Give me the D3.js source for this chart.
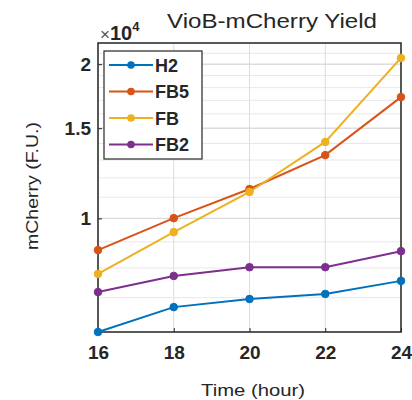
<!DOCTYPE html>
<html>
<head>
<meta charset="utf-8">
<script src="https://cdn.jsdelivr.net/npm/d3@7"></script>
<style>
  body { margin: 0; background: #fff; }
  text { font-family: "Liberation Sans", Arial, sans-serif; fill: #262626; }
</style>
</head>
<body>
<div id="chart"></div>
<script>
const hours = [16, 18, 20, 22, 24];
const seriesNames = ["H2", "FB5", "FB", "FB2"];
const h2 = [6000, 6710, 6960, 7120, 7550];
const fb5 = [8670, 10010, 11410, 13290, 17250];
const fb = [7790, 9400, 11260, 14100, 20570];
const fb2 = [7180, 7720, 8030, 8030, 8630];
const colors = ["#0072BD", "#D95319", "#EDB120", "#7E2F8E"];
const yTicks = [10000, 15000, 20000];
const yMinor = d3.range(6000, 22001, 1000);
const xTicks = [16, 18, 20, 22, 24];

const width = 412, height = 400;
const plotLeft = 98, plotRight = 401, plotTop = 43, plotBottom = 332;

const svg = d3.select("#chart")
	.append("svg")
	.attr("width", width)
	.attr("height", height);

const x = d3.scaleLinear().domain([16, 24]).range([plotLeft, plotRight]);
const y = d3.scaleLog().domain([6000, 22000]).range([plotBottom, plotTop]);

// grid
svg.append("g")
	.selectAll("line")
	.data(yMinor)
	.join("line")
	.attr("x1", plotLeft).attr("x2", plotRight)
	.attr("y1", d => y(d)).attr("y2", d => y(d))
	.attr("stroke", "#e8e8e8")
	.attr("stroke-width", 1);

svg.append("g")
	.selectAll("line")
	.data(xTicks)
	.join("line")
	.attr("x1", d => x(d)).attr("x2", d => x(d))
	.attr("y1", plotTop).attr("y2", plotBottom)
	.attr("stroke", "#dcdcdc")
	.attr("stroke-width", 1);

svg.append("g")
	.selectAll("line")
	.data(yTicks)
	.join("line")
	.attr("x1", plotLeft).attr("x2", plotRight)
	.attr("y1", d => y(d)).attr("y2", d => y(d))
	.attr("stroke", "#d6d6d6")
	.attr("stroke-width", 1);

// axes
const xAxis = svg.append("g")
	.attr("transform", `translate(0,${plotBottom})`)
	.call(d3.axisBottom(x).tickValues(xTicks).tickSize(-4).tickPadding(14).tickFormat(d3.format("d")));
const yAxis = svg.append("g")
	.attr("transform", `translate(${plotLeft},0)`)
	.call(d3.axisLeft(y).tickValues(yTicks).tickSize(-4).tickPadding(7).tickFormat(d => d / 10000));

[xAxis, yAxis].forEach(g => {
	g.select(".domain").remove();
	g.selectAll(".tick line").attr("stroke", "#262626");
	g.selectAll("text")
		.style("font-size", "19px")
		.style("font-weight", "bold")
		.attr("fill", "#262626");
});

// box
svg.append("rect")
	.attr("x", plotLeft).attr("y", plotTop)
	.attr("width", plotRight - plotLeft).attr("height", plotBottom - plotTop)
	.attr("fill", "none")
	.attr("stroke", "#262626")
	.attr("stroke-width", 1.5);

// series
const allSeries = [h2, fb5, fb, fb2];
const line = d3.line().x((d, i) => x(hours[i])).y(d => y(d));

allSeries.forEach((vals, k) => {
	svg.append("path")
		.datum(vals)
		.attr("d", line)
		.attr("fill", "none")
		.attr("stroke", colors[k])
		.attr("stroke-width", 2);
	svg.append("g")
		.selectAll("circle")
		.data(vals)
		.join("circle")
		.attr("cx", (d, i) => x(hours[i]))
		.attr("cy", d => y(d))
		.attr("r", 3.8)
		.attr("fill", colors[k])
		.attr("stroke", colors[k]);
});

// legend
const legend = svg.append("g");
legend.append("rect")
	.attr("x", 104).attr("y", 51)
	.attr("width", 98).attr("height", 108)
	.attr("fill", "#fff")
	.attr("stroke", "#262626")
	.attr("stroke-width", 1.2);
seriesNames.forEach((name, k) => {
	const ly = 65 + k * 26.5;
	legend.append("line")
		.attr("x1", 109).attr("x2", 153)
		.attr("y1", ly).attr("y2", ly)
		.attr("stroke", colors[k])
		.attr("stroke-width", 2);
	legend.append("circle")
		.attr("cx", 131).attr("cy", ly).attr("r", 3.8)
		.attr("fill", colors[k]);
	legend.append("text")
		.attr("x", 155).attr("y", ly + 6.5)
		.style("font-size", "18px")
		.style("font-weight", "bold")
		.text(name);
});

// title and labels
svg.append("text")
	.attr("x", 272).attr("y", 28)
	.attr("text-anchor", "middle")
	.attr("textLength", 210)
	.attr("lengthAdjust", "spacingAndGlyphs")
	.style("font-size", "21px")
	.text("VioB-mCherry Yield");

const exp = svg.append("text")
	.attr("x", 100).attr("y", 40)
	.style("font-size", "20px");
exp.append("tspan").attr("fill", "#555").style("font-size", "17px").text("×");
exp.append("tspan").style("font-weight", "bold").text("10");
exp.append("tspan").attr("dy", -9).style("font-size", "13px").style("font-weight", "bold").text("4");

svg.append("text")
	.attr("x", 253).attr("y", 396)
	.attr("text-anchor", "middle")
	.attr("textLength", 104)
	.attr("lengthAdjust", "spacingAndGlyphs")
	.style("font-size", "17px")
	.text("Time (hour)");

svg.append("text")
	.attr("transform", "translate(38,186) rotate(-90)")
	.attr("text-anchor", "middle")
	.attr("textLength", 128)
	.attr("lengthAdjust", "spacingAndGlyphs")
	.style("font-size", "17px")
	.text("mCherry (F.U.)");
</script>
</body>
</html>
